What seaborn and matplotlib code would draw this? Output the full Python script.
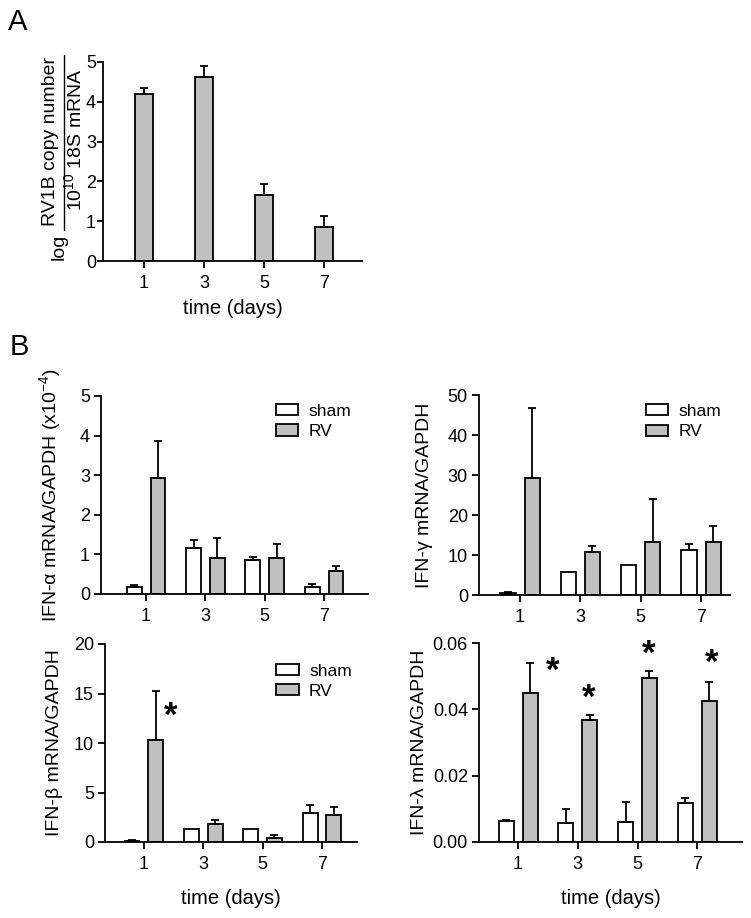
import numpy as np
import pandas as pd
import matplotlib
matplotlib.use('Agg')
import matplotlib.pyplot as plt
from matplotlib.patches import Patch
from matplotlib.lines import Line2D
import seaborn as sns

# ---- data (mean and upward SEM) ----
days = [1, 3, 5, 7]
groups = ['sham', 'RV']

rv1b_mean = [4.19, 4.62, 1.66, 0.86]
rv1b_err = [0.15, 0.28, 0.27, 0.28]

ifna_sham = [0.18, 1.17, 0.85, 0.18]
ifna_sham_err = [0.04, 0.20, 0.09, 0.08]
ifna_rv = [2.94, 0.92, 0.92, 0.57]
ifna_rv_err = [0.93, 0.50, 0.34, 0.14]

ifng_sham = [0.6, 5.8, 7.5, 11.3]
ifng_sham_err = [0.15, 0.0, 0.0, 1.45]
ifng_rv = [29.3, 10.7, 13.2, 13.3]
ifng_rv_err = [17.5, 1.55, 10.7, 3.9]

ifnb_sham = [0.13, 1.28, 1.28, 2.97]
ifnb_sham_err = [0.07, 0.0, 0.0, 0.8]
ifnb_rv = [10.27, 1.86, 0.40, 2.74]
ifnb_rv_err = [4.95, 0.35, 0.34, 0.75]
ifnb_star_x = [1.9]
ifnb_star_y = [12.7]

ifnl_sham = [0.0063, 0.0056, 0.0060, 0.0117]
ifnl_sham_err = [0.0003, 0.0043, 0.0061, 0.0015]
ifnl_rv = [0.0450, 0.0368, 0.0493, 0.0424]
ifnl_rv_err = [0.0089, 0.0016, 0.0024, 0.0059]
ifnl_star_x = [2.15, 3.37, 5.39, 7.47]
ifnl_star_y = [0.0515, 0.0434, 0.0565, 0.0540]

GREY = '#c0c0c0'
W, H = 751, 918

sns.set_style('ticks')
plt.rcParams['font.family'] = ['Liberation Sans', 'DejaVu Sans']
plt.rcParams['mathtext.fontset'] = 'custom'
plt.rcParams['mathtext.rm'] = 'Liberation Sans'
plt.rcParams['mathtext.it'] = 'Liberation Sans:italic'
plt.rcParams['axes.linewidth'] = 1.3
plt.rcParams['axes.edgecolor'] = 'black'
plt.rcParams['text.color'] = 'black'
plt.rcParams['axes.labelcolor'] = 'black'
plt.rcParams['xtick.color'] = 'black'
plt.rcParams['ytick.color'] = 'black'

fig = plt.figure(figsize=(W / 100, H / 100), dpi=100)


def axes_px(left, top, right, bottom):
    return fig.add_axes([left / W, 1 - bottom / H, (right - left) / W, (bottom - top) / H])


def style_axes(ax, xlim, ylim, yticks, ylabel=None, ylabel_x=-0.17, xlabel=False):
    sns.despine(ax=ax)
    ax.set_xlim(*xlim)
    ax.set_ylim(*ylim)
    ax.set_xticks(days)
    ax.set_xticklabels([str(d) for d in days])
    ax.set_yticks(yticks)
    ax.tick_params(axis='both', length=5, width=1.3, labelsize=13, color='black')
    ax.tick_params(axis='x', pad=5)
    ax.tick_params(axis='y', pad=3)
    if ylabel:
        ax.set_ylabel(ylabel, fontsize=14)
        ax.yaxis.set_label_coords(ylabel_x, 0.5)
    else:
        ax.set_ylabel('')
    if xlabel:
        ax.set_xlabel('time (days)', fontsize=14.5)
        ax.xaxis.set_label_coords(0.5, -0.235)
    else:
        ax.set_xlabel('')


def add_errors(ax, lookup):
    # one-sided (upward) error bars placed on the drawn bars
    for p in ax.patches:
        cx = p.get_x() + p.get_width() / 2
        top = p.get_height()
        day = int(round(cx))
        if day not in days:
            continue
        key = day if lookup.get('single') else (day, 'sham' if cx < day else 'RV')
        err = lookup[key]
        if err <= 0:
            continue
        ax.errorbar([cx], [top], yerr=[[0], [err]], fmt='none', ecolor='black',
                    elinewidth=1.3, capsize=3, capthick=1.3, zorder=3)


def grouped_panel(ax, sham, sham_err, rv, rv_err):
    df = pd.DataFrame({
        'day': days + days,
        'value': sham + rv,
        'group': ['sham'] * len(days) + ['RV'] * len(days),
    })
    sns.barplot(data=df, x='day', y='value', hue='group', hue_order=groups,
                native_scale=True, width=0.8, gap=0.375, errorbar=None,
                palette={'sham': 'white', 'RV': GREY}, saturation=1,
                edgecolor='black', linewidth=1.3, legend=False, ax=ax)
    lookup = {}
    for d, e in zip(days, sham_err):
        lookup[(d, 'sham')] = e
    for d, e in zip(days, rv_err):
        lookup[(d, 'RV')] = e
    add_errors(ax, lookup)


def add_legend(ax, fx, fy):
    handles = [Patch(facecolor='white', edgecolor='black', linewidth=1.3),
               Patch(facecolor=GREY, edgecolor='black', linewidth=1.3)]
    ax.legend(handles, groups, loc='upper left', bbox_to_anchor=(fx, fy), frameon=False,
              handlelength=1.3, handleheight=0.6, handletextpad=0.6, labelspacing=0.3,
              borderpad=0, borderaxespad=0, fontsize=12.5)


def add_stars(ax, xs, ys):
    for x, y in zip(xs, ys):
        ax.text(x, y, '*', ha='center', va='center', fontsize=25, fontweight='bold')


# ---- panel A ----
axA = axes_px(103, 62, 362, 261)
sns.barplot(x=days, y=rv1b_mean, native_scale=True, width=0.3, errorbar=None,
            color=GREY, saturation=1, edgecolor='black', linewidth=1.3, ax=axA)
lookupA = {'single': True}
lookupA.update(dict(zip(days, rv1b_err)))
add_errors(axA, lookupA)
style_axes(axA, (-0.37, 8.27), (0, 5), [0, 1, 2, 3, 4, 5], xlabel=True)
axA.tick_params(axis='y', length=4, pad=1)
axA.xaxis.set_label_coords(0.5, -0.19)

# composite y label: log (RV1B copy number / 10^10 18S mRNA)
fig.text(51 / W, 1 - 142 / H, 'RV1B copy number', rotation=90, ha='center', va='center', fontsize=14)
fig.add_artist(Line2D([64 / W, 64 / W], [1 - 55 / H, 1 - 230 / H], transform=fig.transFigure,
                      color='black', lw=1.0))
fig.text(74 / W, 1 - 140 / H, r'$\mathregular{10^{10}}$ 18S mRNA', rotation=90,
         ha='center', va='center', fontsize=14)
fig.text(59 / W, 1 - 247 / H, 'log', rotation=90, ha='center', va='center', fontsize=14)

# ---- panel B ----
ax1 = axes_px(101, 396, 368, 594)
grouped_panel(ax1, ifna_sham, ifna_sham_err, ifna_rv, ifna_rv_err)
style_axes(ax1, (-0.52, 8.48), (0, 5), [0, 1, 2, 3, 4, 5],
           ylabel=r'IFN-α mRNA/GAPDH (x10$^{\mathregular{-4}}$)', ylabel_x=-0.142)
add_legend(ax1, 0.655, 0.96)

ax2 = axes_px(479, 395, 730, 595)
grouped_panel(ax2, ifng_sham, ifng_sham_err, ifng_rv, ifng_rv_err)
style_axes(ax2, (-0.36, 7.96), (0, 50), [0, 10, 20, 30, 40, 50],
           ylabel='IFN-γ mRNA/GAPDH', ylabel_x=-0.183)
add_legend(ax2, 0.665, 0.955)

ax3 = axes_px(105, 644, 357, 842)
grouped_panel(ax3, ifnb_sham, ifnb_sham_err, ifnb_rv, ifnb_rv_err)
style_axes(ax3, (-0.31, 8.18), (0, 20), [0, 5, 10, 15, 20],
           ylabel='IFN-β mRNA/GAPDH', ylabel_x=-0.167, xlabel=True)
add_legend(ax3, 0.679, 0.90)
add_stars(ax3, ifnb_star_x, ifnb_star_y)

ax4 = axes_px(479, 643, 742, 842)
grouped_panel(ax4, ifnl_sham, ifnl_sham_err, ifnl_rv, ifnl_rv_err)
style_axes(ax4, (-0.31, 8.5), (0, 0.06), [0, 0.02, 0.04, 0.06],
           ylabel='IFN-λ mRNA/GAPDH', ylabel_x=-0.194, xlabel=True)
ax4.set_yticklabels(['0.00', '0.02', '0.04', '0.06'])
add_stars(ax4, ifnl_star_x, ifnl_star_y)

fig.text(8 / W, 1 - 8 / H, 'A', ha='left', va='top', fontsize=21)
fig.text(10 / W, 1 - 333 / H, 'B', ha='left', va='top', fontsize=21)

fig.savefig('out.png', dpi=100)
